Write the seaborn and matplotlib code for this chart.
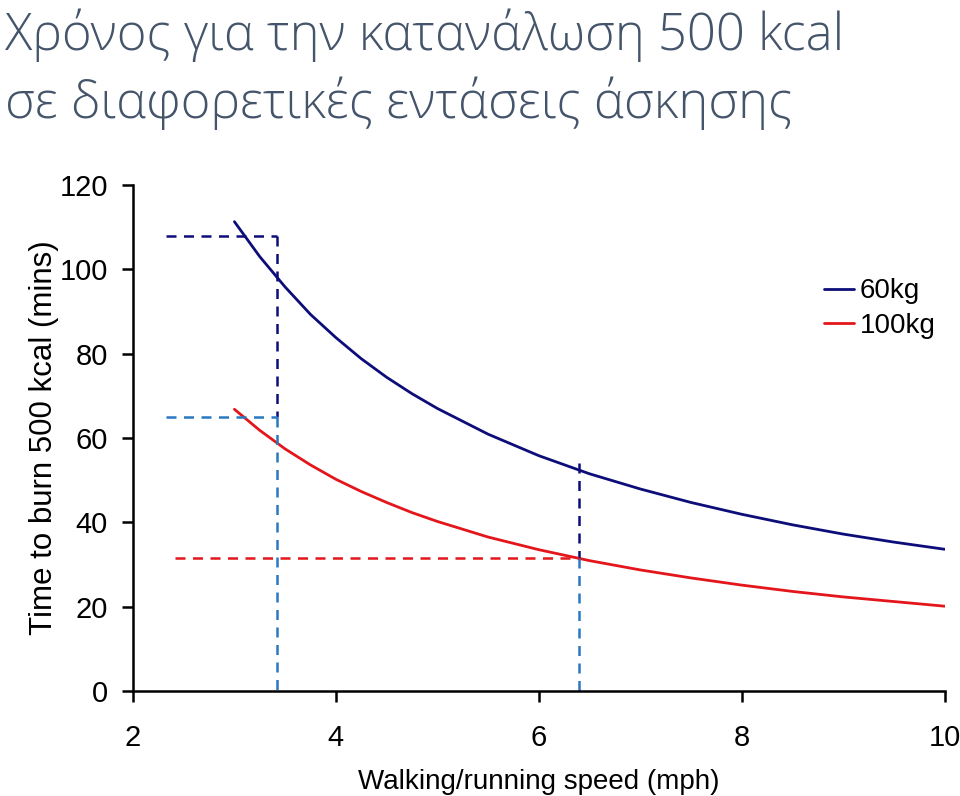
import numpy as np
import pandas as pd
import seaborn as sns
import matplotlib.pyplot as plt

# Speeds (mph) and time to burn 500 kcal (mins)
speed = [3.0, 3.25, 3.5, 3.75, 4.0, 4.25, 4.5, 4.75, 5.0, 5.5, 6.0, 6.5,
         7.0, 7.5, 8.0, 8.5, 9.0, 9.5, 10.0]
time_60kg = [111.3, 103.0, 95.8, 89.3, 83.8, 78.8, 74.4, 70.5, 67.0, 60.9, 55.8, 51.5,
             47.9, 44.7, 41.9, 39.4, 37.2, 35.3, 33.6]
time_100kg = [66.8, 61.8, 57.4, 53.6, 50.2, 47.3, 44.7, 42.3, 40.2, 36.5, 33.5, 30.9,
              28.7, 26.8, 25.1, 23.6, 22.3, 21.2, 20.1]
series_names = ["60kg", "100kg"]

# Guide lines (dashed)
walk_speed = 3.42
walk_60 = 108
walk_100 = 65
run_speed = 6.4
run_top = 54
run_100 = 31.5
guide_start = [2.33, 2.41]

title_lines = ["Χρόνος για την κατανάλωση 500 kcal",
               "σε διαφορετικές εντάσεις άσκησης"]

navy = "#0d0d7a"
red = "#e3161b"
light_blue = "#2a78c2"

df = pd.DataFrame({
    "speed": speed * 2,
    "time": time_60kg + time_100kg,
    "weight": [series_names[0]] * len(speed) + [series_names[1]] * len(speed),
})

sns.set_style("white")
plt.rcParams["font.family"] = ["Liberation Sans", "DejaVu Sans"]

fig = plt.figure(figsize=(9.6, 7.96), dpi=100)
ax = fig.add_axes([0.1385, 0.132, 0.8455, 0.6356])

sns.lineplot(data=df, x="speed", y="time", hue="weight", palette=[navy, red],
             linewidth=2.0, ax=ax)

# dashed guides
dash = dict(linestyle=(0, (4, 3)), linewidth=1.8)
ax.plot([guide_start[0], walk_speed], [walk_60, walk_60], color=navy, **dash)
ax.plot([walk_speed, walk_speed], [walk_60, walk_100], color=navy, **dash)
ax.plot([guide_start[0], walk_speed], [walk_100, walk_100], color=light_blue, **dash)
ax.plot([walk_speed, walk_speed], [walk_100, 0], color=light_blue, **dash)
ax.plot([run_speed, run_speed], [run_top, run_100], color=navy, **dash)
ax.plot([run_speed, run_speed], [run_100, 0], color=light_blue, **dash)
ax.plot([guide_start[1], run_speed], [run_100, run_100], color=red, **dash)

ax.set_xlim(2, 10)
ax.set_ylim(0, 120)
ax.set_xticks([2, 4, 6, 8, 10])
ax.set_yticks([0, 20, 40, 60, 80, 100, 120])
ax.tick_params(axis="both", bottom=True, left=True, labelsize=21, width=1.8,
               length=8, color="black", labelcolor="black")
ax.tick_params(axis="x", pad=16)
ax.tick_params(axis="y", pad=10)
for side in ["top", "right"]:
    ax.spines[side].set_visible(False)
for side in ["left", "bottom"]:
    ax.spines[side].set_color("black")
    ax.spines[side].set_linewidth(1.8)

ax.set_xlabel("Walking/running speed (mph)", fontsize=20, labelpad=12, color="black")
ax.set_ylabel("Time to burn 500 kcal (mins)", fontsize=22.5, labelpad=0, color="black")

leg = ax.legend(title=None, frameon=False, fontsize=20, loc="upper right",
                bbox_to_anchor=(1.02, 0.865), handlelength=1.1, handletextpad=0.2,
                labelspacing=0.3)
for text in leg.get_texts():
    text.set_color("black")
for line in leg.get_lines():
    line.set_linewidth(2.0)

for i, line in enumerate(title_lines):
    fig.text(0.005, 0.937 - i * 0.0855, line, fontsize=36.5, color="#44546a",
             family=["Open Sans", "DejaVu Sans"], fontweight="light",
             va="baseline")

fig.savefig("out.png", dpi=100)
